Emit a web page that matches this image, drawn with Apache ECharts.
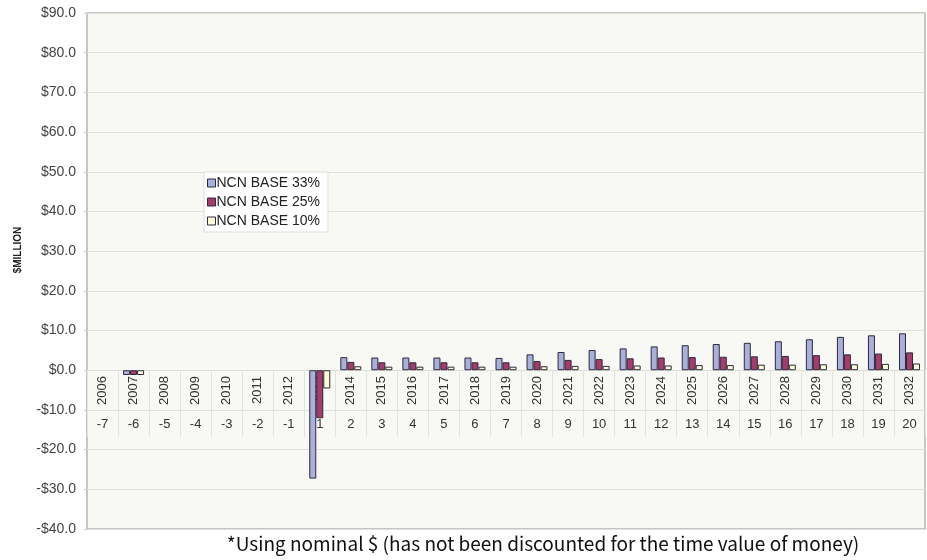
<!DOCTYPE html>
<html>
<head>
<meta charset="utf-8">
<script src="https://cdn.jsdelivr.net/npm/echarts@6/dist/echarts.min.js"></script>
<style>
  html, body { margin: 0; padding: 0; background: #fff; }
  #chart { width: 927px; height: 560px; }
</style>
</head>
<body>
<div id="chart"></div>
<script>
// categories
const years = ['2006', '2007', '2008', '2009', '2010', '2011', '2012', '2013', '2014', '2015',
  '2016', '2017', '2018', '2019', '2020', '2021', '2022', '2023', '2024', '2025',
  '2026', '2027', '2028', '2029', '2030', '2031', '2032'];
const periods = ['-7', '-6', '-5', '-4', '-3', '-2', '-1', '1', '2', '3', '4', '5', '6', '7',
  '8', '9', '10', '11', '12', '13', '14', '15', '16', '17', '18', '19', '20'];

// $ million (null = no bar)
const base33 = [null, -1.2, null, null, null, null, null, -27.3, 3.3, 3.2, 3.2, 3.2, 3.2, 3.1,
  4.0, 4.6, 5.1, 5.5, 6.0, 6.3, 6.6, 6.9, 7.3, 7.8, 8.4, 8.8, 9.3];
const base25 = [null, -1.2, null, null, null, null, null, -12.1, 2.1, 2.0, 2.0, 2.0, 2.0, 2.0,
  2.3, 2.6, 2.8, 3.0, 3.2, 3.3, 3.4, 3.5, 3.6, 3.8, 4.0, 4.2, 4.5];
const base10 = [null, -1.2, null, null, null, null, null, -4.6, 1.0, 0.9, 0.9, 0.9, 0.9, 0.9,
  1.0, 1.1, 1.1, 1.2, 1.2, 1.3, 1.3, 1.4, 1.4, 1.5, 1.5, 1.6, 1.7];

const seriesNames = ['NCN BASE 33%', 'NCN BASE 25%', 'NCN BASE 10%'];
const seriesColors = ['#aab0dc', '#a93a6c', '#fdfad8'];

const chart = echarts.init(document.getElementById('chart'));

const font = 'Liberation Sans, Arial, sans-serif';

const bar = (name, data, color) => ({
  name,
  type: 'bar',
  data,
  barWidth: 7,
  barGap: '0%',
  itemStyle: { color, borderColor: '#2b2b3a', borderWidth: 1 }
});

chart.setOption({
  animation: false,
  textStyle: { fontFamily: font },
  title: {
    text: '*Using nominal $ (has not been discounted for the time value of money)',
    left: 538,
    textAlign: 'center',
    bottom: 2,
    textStyle: {
      fontFamily: 'Noto Sans CJK JP, sans-serif',
      fontSize: 19,
      fontWeight: 'normal',
      color: '#111'
    }
  },
  legend: {
    orient: 'vertical',
    left: 204,
    top: 172,
    icon: 'rect',
    itemWidth: 8,
    itemHeight: 8,
    itemGap: 3,
    padding: [3, 8, 3, 3],
    backgroundColor: '#fff',
    borderColor: '#ddd',
    borderWidth: 1,
    textStyle: { fontSize: 14, color: '#222', lineHeight: 16, padding: [0, 0, 0, -4] },
    data: seriesNames.map((n, i) => ({
      name: n,
      itemStyle: { color: seriesColors[i], borderColor: '#2b2b3a', borderWidth: 1 }
    }))
  },
  grid: {
    left: 87,
    right: 2,
    top: 13,
    bottom: 31,
    outerBoundsMode: 'none',
    show: true,
    backgroundColor: '#f8f8f4',
    borderColor: '#b4b4b0',
    borderWidth: 1.5
  },
  xAxis: [
    {
      // year row, sitting on the $0 line
      type: 'category',
      data: years,
      position: 'bottom',
      offset: -159,
      axisLine: { onZero: false, lineStyle: { color: '#dcdcd8', width: 1 } },
      axisTick: { show: true, length: 40, lineStyle: { color: '#e2e2de' } },
      axisLabel: { rotate: 90, margin: 6, fontSize: 13, color: '#333', interval: 0 }
    },
    {
      // project year row, on the -$10 line
      type: 'category',
      data: periods,
      position: 'bottom',
      offset: -119,
      axisLine: { show: false, onZero: false },
      axisTick: { show: true, length: 27, lineStyle: { color: '#e2e2de' } },
      axisLabel: { margin: 8, fontSize: 13, color: '#333', interval: 0 }
    }
  ],
  yAxis: {
    type: 'value',
    min: -40,
    max: 90,
    interval: 10,
    name: '$MILLION',
    nameLocation: 'middle',
    nameGap: 64,
    nameTextStyle: { fontWeight: 'bold', fontSize: 10, color: '#222', padding: [0, 0, 0, 42] },
    axisLine: { show: false },
    axisTick: { show: true, length: 3, lineStyle: { color: '#ccc' } },
    axisLabel: {
      margin: 11,
      fontSize: 14,
      color: '#444',
      formatter: v => (v < 0 ? '-$' : '$') + Math.abs(v).toFixed(1)
    },
    splitLine: { lineStyle: { color: '#e0e0dc', width: 1 } }
  },
  series: [
    bar(seriesNames[0], base33, seriesColors[0]),
    bar(seriesNames[1], base25, seriesColors[1]),
    bar(seriesNames[2], base10, seriesColors[2])
  ]
});
</script>
</body>
</html>
